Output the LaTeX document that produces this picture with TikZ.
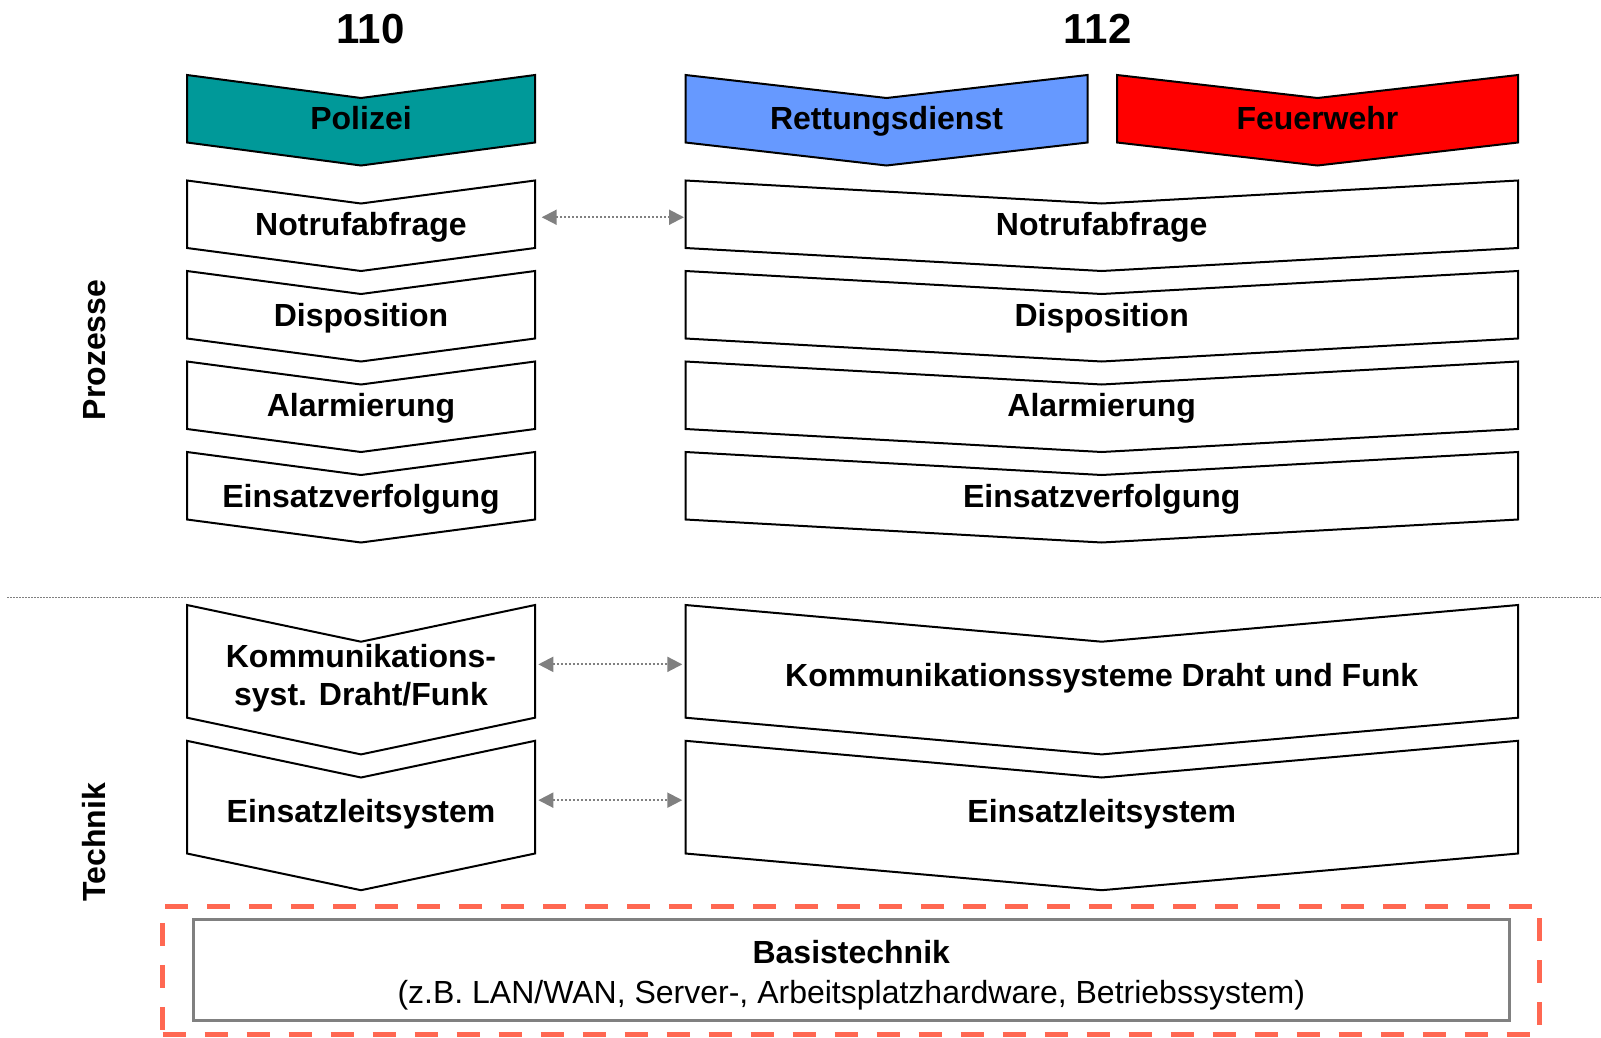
\documentclass[tikz,border=0pt]{standalone}
\usepackage{fontspec}
\setmainfont{Liberation Sans}
\usetikzlibrary{arrows.meta}
\definecolor{polteal}{RGB}{0,153,153}
\definecolor{rdblue}{RGB}{102,153,255}
\definecolor{fwred}{RGB}{255,0,0}
\definecolor{dashred}{RGB}{255,104,82}
\definecolor{arrgray}{RGB}{128,128,128}
\newcommand{\chev}[7]{%
  \node[chevbox, minimum width={(#3-#2)*1bp}, minimum height={#5*1bp}] (#1) at ({(#2+#3)/2},{#4+#5/2}) {};
  \draw[chevline,#7] (#1.north west) -- ([yshift=-#6bp]#1.north) -- (#1.north east)
    -- (#1.south east) -- ([yshift=-#6bp]#1.south) -- (#1.south west) -- cycle;
}
\begin{document}
\begin{tikzpicture}[x=1bp,y=-1bp,
  chevbox/.style={inner sep=0pt, outer sep=0pt, draw=none},
  chevline/.style={draw=black, line width=2bp, fill=white},
  lbl/.style={font=\fontsize{32bp}{38.3bp}\selectfont\bfseries, anchor=base, inner sep=0pt, align=center},
  num/.style={font=\fontsize{42bp}{48bp}\selectfont\bfseries, anchor=base, inner sep=0pt},
  conn/.style={draw=arrgray, line width=2bp, dash pattern=on 2bp off 2bp,
    {Triangle[length=15bp,width=15bp,fill=arrgray]}-{Triangle[length=15bp,width=15bp,fill=arrgray]}},
  sepline/.style={draw=arrgray, line width=1.5bp, dash pattern=on 1.5bp off 1.5bp},
  dashbox/.style={draw=dashred, line width=5bp, dash pattern=on 23bp off 19bp},
  basisbox/.style={draw=arrgray, line width=2.5bp, inner sep=0pt, fill=white}
]
\useasboundingbox (0,0) rectangle (1601,1037);

% numbers
\node[num] (n110) at (370.5,43) {110};
\node[num] (n112) at (1097.6,43) {112};

% headers
\chev{pol}{187}{535}{75}{67.5}{23}{fill=polteal}
\chev{rd}{685.5}{1087.5}{75}{67.5}{23}{fill=rdblue}
\chev{fw}{1117}{1518}{75}{67.5}{23}{fill=fwred}
\node[lbl] (tpol) at (361,129) {Polizei};
\node[lbl] (trd) at (886.5,129) {Rettungsdienst};
\node[lbl] (tfw) at (1317.5,129) {Feuerwehr};

% process rows
\chev{lN}{187}{535}{180.5}{67.5}{23}{}
\chev{rN}{685.5}{1518}{180.5}{67.5}{23}{}
\chev{lD}{187}{535}{271}{67.5}{23}{}
\chev{rD}{685.5}{1518}{271}{67.5}{23}{}
\chev{lA}{187}{535}{361.5}{67.5}{23}{}
\chev{rA}{685.5}{1518}{361.5}{67.5}{23}{}
\chev{lE}{187}{535}{452}{67.5}{23}{}
\chev{rE}{685.5}{1518}{452}{67.5}{23}{}

\node[lbl] (tlN) at (361,235.7) {Notrufabfrage};
\node[lbl] (trN) at (1101.7,235.7) {Notrufabfrage};
\node[lbl] (tlD) at (361,326.2) {Disposition};
\node[lbl] (trD) at (1101.7,326.2) {Disposition};
\node[lbl] (tlA) at (361,416.7) {Alarmierung};
\node[lbl] (trA) at (1101.7,416.7) {Alarmierung};
\node[lbl] (tlE) at (361,507.2) {Einsatzverfolgung};
\node[lbl] (trE) at (1101.7,507.2) {Einsatzverfolgung};

% separator
\coordinate (sepA) at (7,597.3);
\coordinate (sepB) at (1601,597.3);
\draw[sepline] (sepA) -- (sepB);

% technik rows
\chev{lK}{187}{535}{605}{112.7}{36.7}{}
\chev{rK}{685.5}{1518}{605}{112.7}{36.7}{}
\chev{lS}{187}{535}{740.8}{112.7}{36.7}{}
\chev{rS}{685.5}{1518}{740.8}{112.7}{36.7}{}

\node[lbl] (tlK) at (361,705.3) {Kommunikations-\\syst. Draht/Funk};
\node[lbl] (trK) at (1101.7,686.4) {Kommunikationssysteme Draht und Funk};
\node[lbl] (tlS) at (361,822.2) {Einsatzleitsystem};
\node[lbl] (trS) at (1101.7,822.2) {Einsatzleitsystem};

% side labels
\node[lbl, rotate=90] (proz) at (105,350) {Prozesse};
\node[lbl, rotate=90] (tech) at (105,842.3) {Technik};

% connectors
\draw[conn, shorten <=6.7bp, shorten >=1.5bp] ([yshift=-3bp]lN.east) -- ([yshift=-3bp]rN.west);
\draw[conn, shorten <=3.3bp, shorten >=3.2bp] ([yshift=-3bp]lK.east) -- ([yshift=-3bp]rK.west);
\draw[conn, shorten <=3.3bp, shorten >=3.2bp] ([yshift=-3bp]lS.east) -- ([yshift=-3bp]rS.west);

% basis
\node[dashbox, inner sep=0pt, minimum width={(1539.3-162.7)*1bp}, minimum height={(1034-906)*1bp}] (dash) at ({(162.7+1539.3)/2},{(906+1034)/2}) {};
\node[basisbox, minimum width={(1509.3-193.3)*1bp}, minimum height={(1020.7-919.3)*1bp}] (basis) at ({(193.3+1509.3)/2},{(919.3+1020.7)/2}) {};
\node[lbl, font=\fontsize{32bp}{40bp}\selectfont] (tbasis) at (851.3,1003) {\textbf{Basistechnik}\\(z.B. LAN/WAN, Server-, Arbeitsplatzhardware, Betriebssystem)};
\end{tikzpicture}
\end{document}
